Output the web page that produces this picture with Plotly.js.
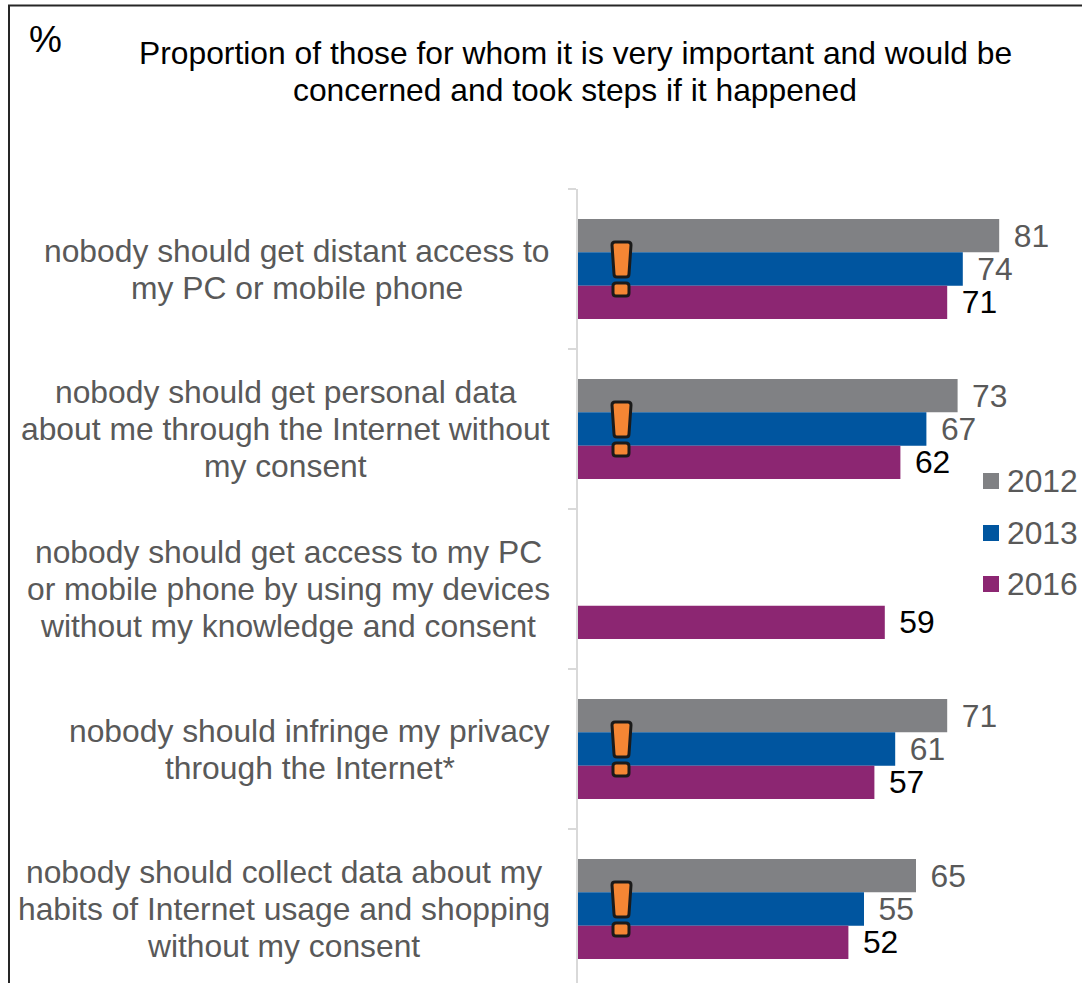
<!DOCTYPE html>
<html>
<head>
<meta charset="utf-8">
<script src="https://cdn.plot.ly/plotly-3.0.1.min.js"></script>
<style>html,body{margin:0;padding:0;background:#fff;overflow:hidden}</style>
</head>
<body>
<div id="chart" style="width:1082px;height:983px"></div>
<script>
const categories = [
  "nobody should get distant access to<br>my PC or mobile phone",
  "nobody should get personal data<br>about me through the Internet without<br>my consent",
  "nobody should get access to my PC<br>or mobile phone by using my devices<br>without my knowledge and consent",
  "nobody should infringe my privacy<br>through the Internet*",
  "nobody should collect data about my<br>habits of Internet usage and shopping<br>without my consent"
];
const seriesNames = ["2012", "2013", "2016"];
const values2012 = [81, 73, null, 71, 65];
const values2013 = [74, 67, null, 61, 55];
const values2016 = [71, 62, 59, 57, 52];
const seriesColors = ["#808184", "#00559F", "#8C2672"];
const labelColors = ["#595959", "#595959", "#000000"];
const flaggedCategories = [0, 1, 3, 4];
const titleLines = [
  "Proportion of those for whom it is very important and would be",
  "concerned and took steps if it happened"
];
const unitLabel = "%";

const W = 1082, H = 983;
const M = {l: 578, r: 0, t: 189, b: 0};
const BAND = 160;
const FONT = "Liberation Sans, Arial, sans-serif";
const FS = 31.8;
const LINE_STEP = 37;

// pixel position on the page -> paper fraction
const px = x => (x - M.l) / (W - M.l - M.r);
const py = y => 1 - (y - M.t) / (H - M.t - M.b);

const measure = document.createElement("canvas").getContext("2d");
measure.font = FS + "px 'Liberation Sans'";

const traces = [values2012, values2013, values2016].map((vals, i) => ({
  type: "bar",
  orientation: "h",
  name: seriesNames[i],
  y: categories,
  x: vals,
  marker: {color: seriesColors[i], line: {width: 0}},
  text: vals.map(v => v == null ? "" : "\u00a0\u200a" + v),
  textposition: "outside",
  textangle: 0,
  cliponaxis: false,
  constraintext: "none",
  textfont: {family: FONT, size: FS, color: labelColors[i]},
  hoverinfo: "skip"
}));

const annotations = [];
// category labels: each line placed on a tight step, lines centred within a right-aligned block
categories.forEach(c => {
  const lines = c.split("<br>");
  const blockWidth = Math.max(...lines.map(l => measure.measureText(l).width));
  lines.forEach((l, i) => annotations.push({
    xref: "paper", yref: "y", x: px(550 - blockWidth / 2), y: c, text: l,
    xanchor: "center", yanchor: "middle", showarrow: false,
    yshift: -(i - (lines.length - 1) / 2) * LINE_STEP,
    font: {family: FONT, size: FS, color: "#595959"}
  }));
});
// heading
titleLines.forEach((l, i) => annotations.push({
  xref: "paper", yref: "paper", x: px(575), y: py(53 + i * LINE_STEP), text: l,
  xanchor: "center", yanchor: "middle", showarrow: false,
  font: {family: FONT, size: FS, color: "#000"}
}));
annotations.push({
  xref: "paper", yref: "paper", x: px(45), y: py(39), text: unitLabel,
  xanchor: "center", yanchor: "middle", showarrow: false,
  font: {family: FONT, size: 37, color: "#000"}
});

const shapes = [];
// outer frame, open towards the right and bottom page edges
shapes.push({
  type: "path", xref: "paper", yref: "paper", layer: "above",
  path: `M${px(9)},${py(H + 5)} L${px(9)},${py(5.5)} L${px(W + 5)},${py(5.5)}`,
  line: {color: "#262626", width: 2}
});

// legend key
seriesNames.forEach((n, i) => {
  const cy = [481, 533, 584][i];
  shapes.push({
    type: "rect", xref: "paper", yref: "paper",
    x0: px(983), x1: px(999), y0: py(cy - 8), y1: py(cy + 8),
    fillcolor: seriesColors[i], line: {width: 0}
  });
  annotations.push({
    xref: "paper", yref: "paper", x: px(1004.5), y: py(cy), text: n,
    xanchor: "left", yanchor: "middle", showarrow: false,
    font: {family: FONT, size: FS, color: "#595959"}
  });
});

// warning marks laid over the bars of the flagged categories
flaggedCategories.forEach(idx => {
  const top = M.t + BAND * idx + 53;
  const X = d => px(d).toFixed(5), Y = d => py(top + d).toFixed(5);
  const body = `M${X(615)},${Y(0)} L${X(628)},${Y(0)} Q${X(631)},${Y(0)} ${X(631)},${Y(3)} ` +
    `L${X(629)},${Y(32)} Q${X(629)},${Y(35)} ${X(626)},${Y(35)} L${X(617)},${Y(35)} ` +
    `Q${X(614)},${Y(35)} ${X(614)},${Y(32)} L${X(612)},${Y(3)} Q${X(612)},${Y(0)} ${X(615)},${Y(0)} Z`;
  const dot = `M${X(616)},${Y(41)} L${X(626)},${Y(41)} Q${X(629)},${Y(41)} ${X(629)},${Y(44)} ` +
    `L${X(629)},${Y(51)} Q${X(629)},${Y(54)} ${X(626)},${Y(54)} L${X(616)},${Y(54)} ` +
    `Q${X(613)},${Y(54)} ${X(613)},${Y(51)} L${X(613)},${Y(44)} Q${X(613)},${Y(41)} ${X(616)},${Y(41)} Z`;
  [body, dot].forEach(p => shapes.push({
    type: "path", xref: "paper", yref: "paper", layer: "above", path: p,
    fillcolor: "#F58634", line: {color: "#1A1A1A", width: 3}
  }));
});

const layout = {
  width: W, height: H,
  margin: M,
  paper_bgcolor: "#fff", plot_bgcolor: "#fff",
  barmode: "group", bargap: 0.375, bargroupgap: 0,
  showlegend: false,
  hovermode: false,
  xaxis: {range: [0, (W - M.l) / 5.2], visible: false, fixedrange: true},
  yaxis: {
    type: "category", categoryorder: "array", categoryarray: categories,
    range: [(H - M.t) / BAND - 0.5, -0.5], fixedrange: true,
    showticklabels: false, showgrid: false, zeroline: false,
    showline: true, linecolor: "#D9D9D9", linewidth: 2,
    ticks: "outside", tickson: "boundaries", ticklen: 8, tickcolor: "#D9D9D9", tickwidth: 2
  },
  annotations, shapes
};

Plotly.newPlot("chart", traces, layout, {displayModeBar: false, responsive: false});
</script>
</body>
</html>
